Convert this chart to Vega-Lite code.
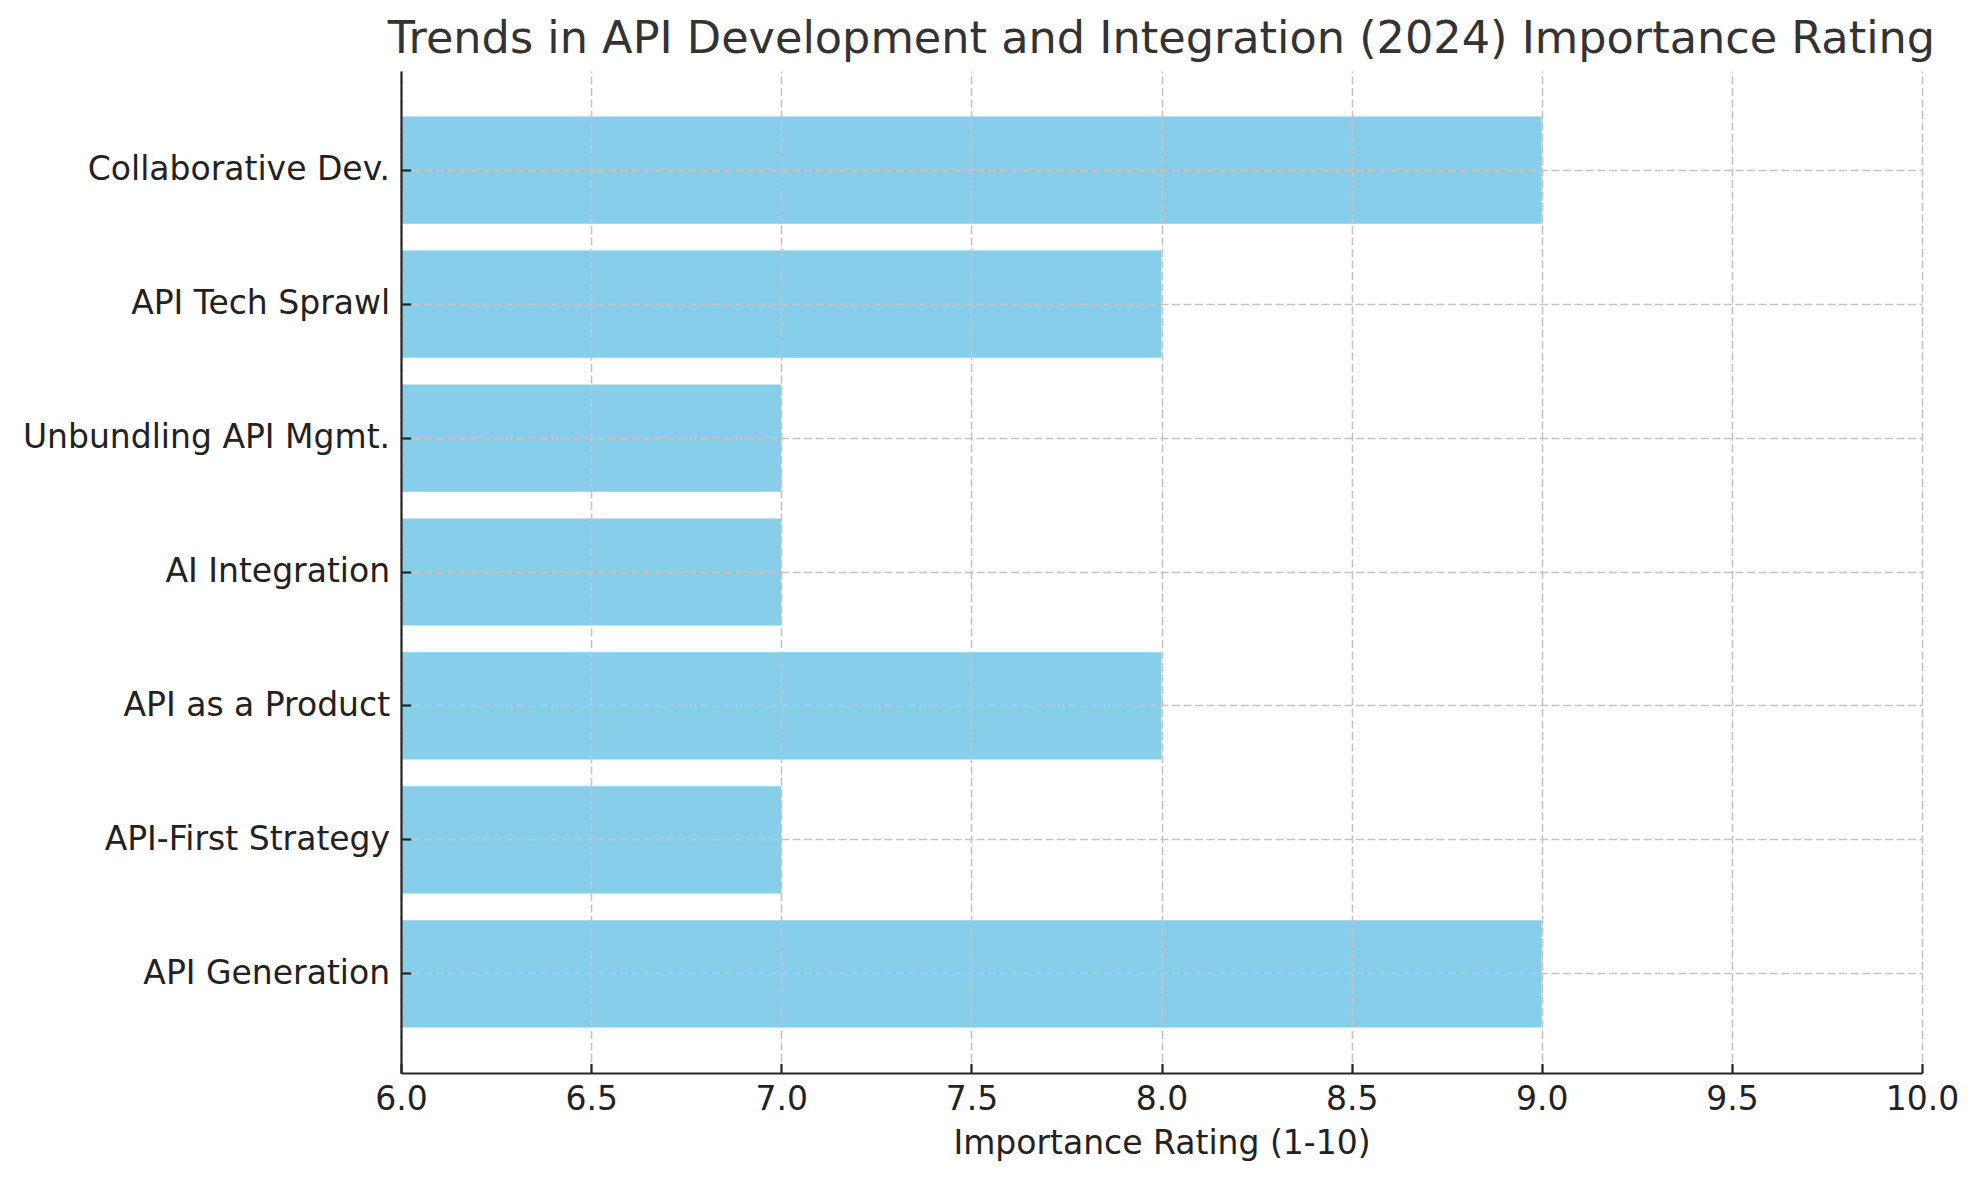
{
  "$schema": "https://vega.github.io/schema/vega-lite/v6.json",
  "description": "Horizontal bars of 2024 API trend importance ratings",
  "autosize": {"type": "none"},
  "padding": {"left": 401, "top": 71, "right": 57, "bottom": 107},
  "width": 1521,
  "height": 1002,
  "background": "white",
  "title": {
    "text": "Trends in API Development and Integration (2024) Importance Rating",
    "font": "DejaVu Sans",
    "fontSize": 44.6,
    "fontWeight": "normal",
    "color": "#333333",
    "anchor": "middle",
    "baseline": "alphabetic",
    "offset": 16,
    "dy": 43
  },
  "data": {
    "values": [
      {"trend": "Collaborative Dev.", "rating": 9},
      {"trend": "API Tech Sprawl", "rating": 8},
      {"trend": "Unbundling API Mgmt.", "rating": 7},
      {"trend": "AI Integration", "rating": 7},
      {"trend": "API as a Product", "rating": 8},
      {"trend": "API-First Strategy", "rating": 7},
      {"trend": "API Generation", "rating": 9}
    ]
  },
  "mark": {"type": "bar", "color": "#87CEEB", "clip": true},
  "encoding": {
    "y": {
      "field": "trend",
      "type": "nominal",
      "sort": null,
      "title": null,
      "scale": {"paddingInner": 0.2, "paddingOuter": 0.34},
      "axis": {
        "grid": true,
        "bandPosition": 0.5,
        "labelPadding": 21,
        "labelLimit": 0,
        "labelFontSize": 33,
        "zindex": 1
      }
    },
    "x": {
      "field": "rating",
      "type": "quantitative",
      "title": "Importance Rating (1-10)",
      "scale": {"domain": [6, 10], "zero": false, "nice": false},
      "axis": {
        "values": [6, 6.5, 7, 7.5, 8, 8.5, 9, 9.5, 10],
        "format": ".1f",
        "grid": true,
        "labelFlush": false,
        "labelPadding": 20,
        "labelFontSize": 33,
        "titleFontSize": 33,
        "titlePadding": 11,
        "zindex": 1
      }
    }
  },
  "config": {
    "view": {"stroke": null},
    "axis": {
      "labelFont": "DejaVu Sans",
      "titleFont": "DejaVu Sans",
      "titleFontWeight": "normal",
      "labelColor": "#222222",
      "titleColor": "#222222",
      "domainColor": "#262626",
      "domainWidth": 2.2,
      "tickColor": "#262626",
      "tickWidth": 2.2,
      "tickSize": -9.6,
      "gridColor": "#c4c4c4",
      "gridWidth": 1.6,
      "gridDash": [8, 3.5]
    }
  }
}
